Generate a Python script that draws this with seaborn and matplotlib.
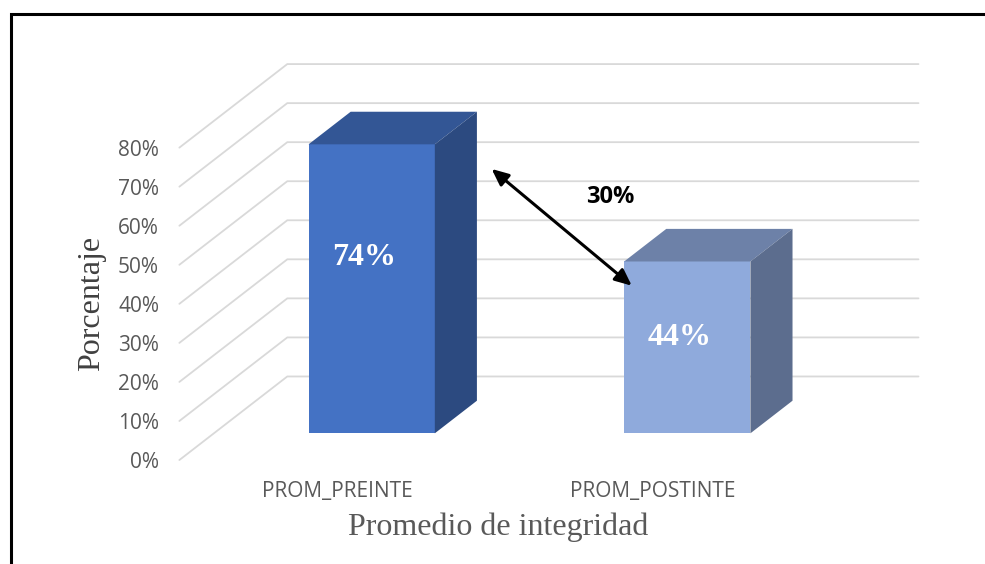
import matplotlib
matplotlib.use("Agg")
import matplotlib.pyplot as plt
from matplotlib.patches import Polygon, Rectangle
import pandas as pd
import seaborn as sns

# data
categories = ["PROM_PREINTE", "PROM_POSTINTE"]
values = [0.74, 0.44]
tick_values = [0.0, 0.1, 0.2, 0.3, 0.4, 0.5, 0.6, 0.7, 0.8]
tick_labels = ["0%", "10%", "20%", "30%", "40%", "50%", "60%", "70%", "80%"]
value_labels = ["74%", "44%"]
diff_label = "30%"

front_colors = ["#4472C4", "#8FAADC"]
top_colors = ["#335695", "#6D81A8"]
side_colors = ["#2C4A80", "#5C6D8E"]

# fake 3D geometry, in data units
DEPTH_DX = 0.342      # x shift from front plane to back wall
DEPTH_DY = 0.214      # y shift from front plane to back wall
BAR_FRONT = 0.32      # depth of bar front face (0 front plane, 1 back wall)
BAR_DEPTH = 0.39      # thickness of bars
FLOOR_X = (-0.5, 1.5)


def proj(x, y, d):
    """Project a point at depth d onto the bar front plane."""
    return x + (d - BAR_FRONT) * DEPTH_DX, y + (d - BAR_FRONT) * DEPTH_DY


sns.set_style("white")
plt.rcParams["font.family"] = ["Open Sans", "DejaVu Sans"]

W, H = 985, 564
fig = plt.figure(figsize=(W / 100, H / 100), dpi=100)
# axes placed in pixels
ax = fig.add_axes([175 / W, (H - 470) / H, (930 - 175) / W, (470 - 40) / H])

df = pd.DataFrame({"categoria": categories, "valor": values})
sns.barplot(data=df, x="categoria", y="valor", hue="categoria", palette=front_colors,
            width=0.4, saturation=1, legend=False, linewidth=0, ax=ax, zorder=3)

# gridlines: floor diagonals + back wall
for v in tick_values:
    xf, yf = proj(FLOOR_X[0], v, 0)
    xb, yb = proj(FLOOR_X[0], v, 1)
    xe, _ = proj(FLOOR_X[1], v, 1)
    ax.plot([xf, xb, xe], [yf, yb, yb], color="#D9D9D9", lw=1.3, zorder=1,
            solid_joinstyle="miter")

# top and side faces of the bars
bdx, bdy = BAR_DEPTH * DEPTH_DX, BAR_DEPTH * DEPTH_DY
for i, p in enumerate(ax.patches[:len(values)]):
    x0, w, h = p.get_x(), p.get_width(), p.get_height()
    top = [(x0, h), (x0 + w, h), (x0 + w + bdx, h + bdy), (x0 + bdx, h + bdy)]
    side = [(x0 + w, 0), (x0 + w, h), (x0 + w + bdx, h + bdy), (x0 + w + bdx, bdy)]
    ax.add_patch(Polygon(top, closed=True, fc=top_colors[i], ec="none", zorder=3))
    ax.add_patch(Polygon(side, closed=True, fc=side_colors[i], ec="none", zorder=3))
    ax.text(x0 + w / 2 - 0.025, h * 0.68 - 0.054, value_labels[i], color="white",
            fontfamily="Liberation Serif", fontweight="bold", fontsize=23,
            ha="center", va="center", zorder=5)

# difference arrow between the bars
ax.annotate("", xy=(1 - 0.176, values[1] - 0.062), xytext=(0.38, values[0] - 0.063),
            arrowprops=dict(arrowstyle="<|-|>,head_length=1.0,head_width=0.45",
                            color="black", lw=2.2, shrinkA=0, shrinkB=0), zorder=6)
ax.text(0.755, values[0] - 0.135, diff_label, fontsize=17, fontweight="bold",
        color="black", ha="center", va="center", zorder=6)

# axes scaling: x unit = 315.6 px, y unit = 390.5 px
ax.set_xlim((175 - 371.7) / 315.6, (930 - 371.7) / 315.6)
ax.set_ylim((433.3 - 470) / 390.5, (433.3 - 40) / 390.5)

ax.set_yticks([v - BAR_FRONT * DEPTH_DY for v in tick_values], tick_labels)
ax.set_xticks([i - BAR_FRONT * DEPTH_DX for i in range(len(categories))], categories)
ax.tick_params(axis="both", length=0, labelsize=15, labelcolor="#595959")
ax.tick_params(axis="y", pad=11.5)
ax.tick_params(axis="x", pad=8)

ax.set_xlabel("Promedio de integridad", fontfamily="Liberation Serif", fontsize=23,
              color="#595959")
ax.set_ylabel("Porcentaje", fontfamily="Liberation Serif", fontsize=23,
              color="#404040")
ax.xaxis.set_label_coords((498 - 175) / 755, (470 - 512) / 430)
ax.yaxis.set_label_coords((106 - 175) / 755, (470 - 303) / 430)
sns.despine(ax=ax, left=True, bottom=True)
ax.set_facecolor("none")

# outer frame (only left and top visible in the crop)
fig.add_artist(Rectangle((10.5 / W, -0.5), 2, (H - 13.5) / H + 0.5,
                         transform=fig.transFigure, fill=False, lw=2.2, ec="black"))

fig.savefig("out.png", dpi=100)
